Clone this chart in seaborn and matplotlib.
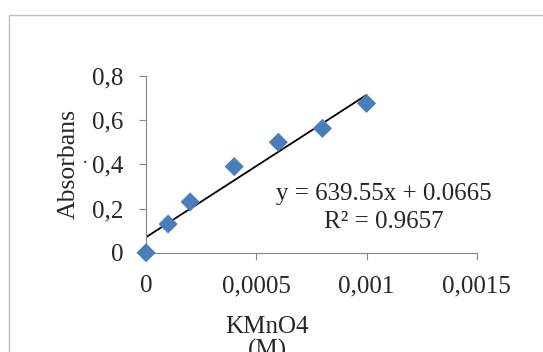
import numpy as np
import matplotlib
matplotlib.use("Agg")
import matplotlib.pyplot as plt
import seaborn as sns
import pandas as pd
from matplotlib.patches import Rectangle

# data
konsentrasi = [0.0, 0.0001, 0.0002, 0.0004, 0.0006, 0.0008, 0.001]
absorbans = [0.0, 0.13, 0.23, 0.39, 0.50, 0.563, 0.676]
xticks = [0, 0.0005, 0.001, 0.0015]
xtick_lab = ["0", "0,0005", "0,001", "0,0015"]
yticks = [0, 0.2, 0.4, 0.6, 0.8]
ytick_lab = ["0", "0,2", "0,4", "0,6", "0,8"]
persamaan = "y = 639.55x + 0.0665"
r2 = "R² = 0.9657"

df = pd.DataFrame({"x": konsentrasi, "y": absorbans})

sns.set_style("white")
plt.rcParams["font.family"] = ["Liberation Serif", "DejaVu Serif"]

fig = plt.figure(figsize=(5.43, 3.52), dpi=100)
ax = fig.add_axes([0.269, 0.282, 0.609, 0.502])

# outer chart frame
fig.patches.append(Rectangle((9 / 543, -0.1), 1.2, 1 - 15 / 352 + 0.1,
                             transform=fig.transFigure, fill=False,
                             edgecolor="#bfbfbf", linewidth=1.0))

# trend line (fit over data range)
m, b = np.polyfit(konsentrasi, absorbans, 1)
xs = np.array([0, max(konsentrasi)])
sns.lineplot(x=xs, y=m * xs + b, color="black", linewidth=1.3, ax=ax, zorder=2)

sns.scatterplot(data=df, x="x", y="y", marker="D", s=95, color="#4a7ebb",
                edgecolor="none", ax=ax, zorder=3, clip_on=False)

ax.set_xlim(0, 0.0015)
ax.set_ylim(0, 0.8)
ax.set_xticks(xticks)
ax.set_xticklabels(xtick_lab)
ax.set_yticks(yticks)
ax.set_yticklabels(ytick_lab)
ax.tick_params(axis="x", direction="out", length=5, width=0.8, color="#868686",
               labelsize=18, pad=11, bottom=True)
ax.tick_params(axis="y", direction="out", length=5, width=0.8, color="#868686",
               labelsize=18, pad=11, left=True)
for s in ["top", "right"]:
    ax.spines[s].set_visible(False)
for s in ["left", "bottom"]:
    ax.spines[s].set_color("#868686")
    ax.spines[s].set_linewidth(0.8)
ax.set_xlabel("")
ax.set_ylabel("Absorbans", fontsize=18.5, labelpad=9)

ax.text(0.00108, 0.266, persamaan, fontsize=18, ha="center", va="center")
ax.text(0.00108, 0.137, r2, fontsize=18, ha="center", va="center")

# small stray mark left of the 0,4 label
fig.text(85 / 543, 1 - 163 / 352, "·", fontsize=14, ha="center", va="center")

fig.text(267 / 543, 1 - 327 / 352, "KMnO4", fontsize=18, ha="center", va="center")
fig.text(267 / 543, 1 - 350 / 352, "(M)", fontsize=18, ha="center", va="center")

fig.savefig("out.png", dpi=100)
